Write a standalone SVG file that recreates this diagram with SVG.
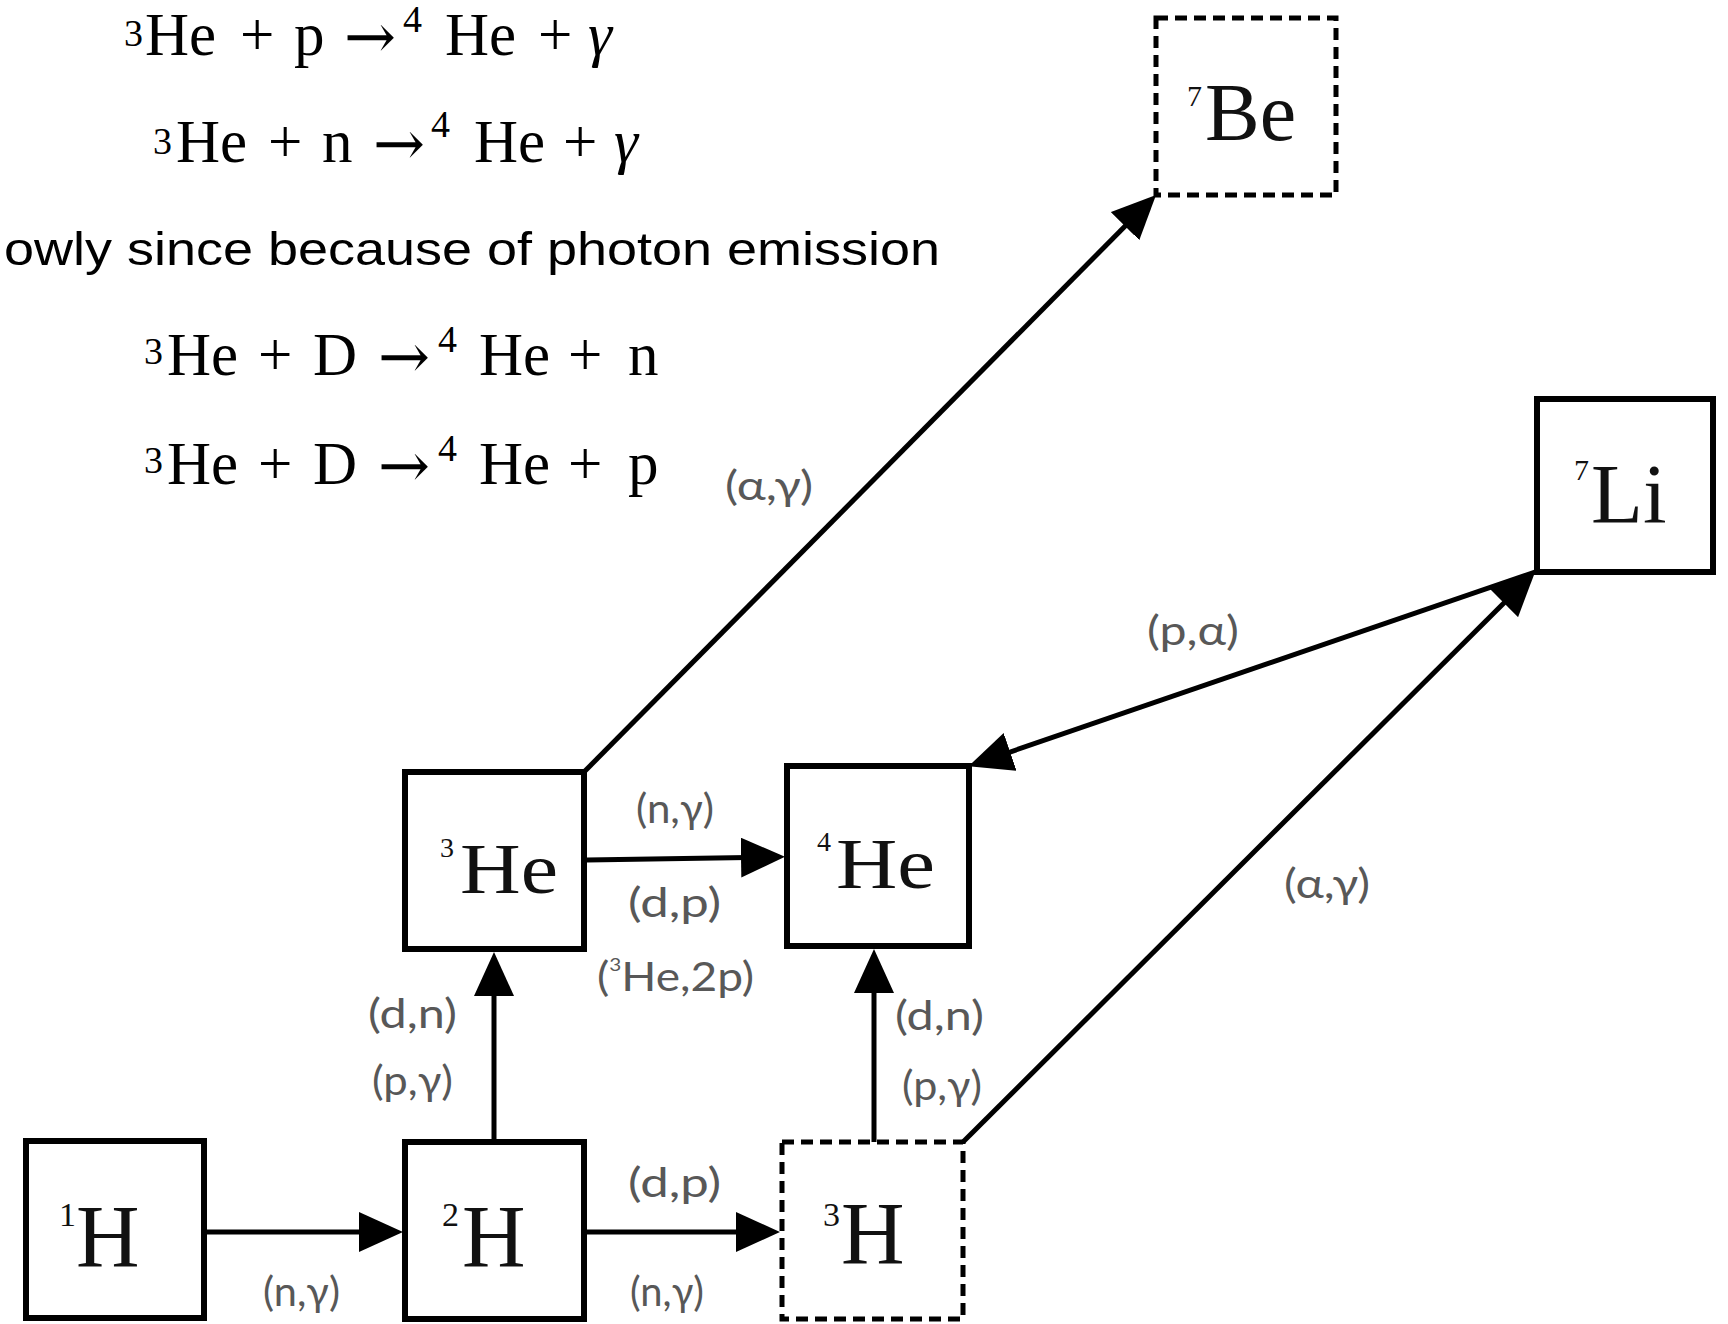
<svg xmlns="http://www.w3.org/2000/svg" width="1728" height="1324" viewBox="0 0 1728 1324">
<defs>
<style>
.eq{font-family:"Liberation Serif","Times New Roman",serif;font-size:61px;fill:#000}
.eqs{font-size:38px}
.eqg{font-style:italic}
.arr{font-family:"DejaVu Serif","DejaVu Sans",serif;font-size:62px}
.sans{font-family:"Liberation Sans",Arial,sans-serif;font-size:47px;fill:#000}
.box{fill:#fff;stroke:#000;stroke-width:6}
.dash{fill:#fff;stroke:#000;stroke-width:5;stroke-dasharray:12 7}
.nl{font-family:"Liberation Serif","Times New Roman",serif;fill:#111}
.lab{font-family:"Lato","Liberation Sans",sans-serif;font-size:40px;fill:#585858}
.con{stroke:#000;stroke-width:5;fill:none}
</style>
<marker id="ah" viewBox="0 0 44 40" refX="34" refY="20" markerWidth="44" markerHeight="40" markerUnits="userSpaceOnUse" orient="auto">
<path d="M0,0 L44,20 L0,40 z" fill="#000"/>
</marker>
</defs>
<rect width="1728" height="1324" fill="#fff"/>

<g id="equations">
<text class="eq"><tspan class="eqs" x="124" y="46">3</tspan><tspan x="145" y="55">He</tspan><tspan x="240" y="55">+</tspan><tspan x="294" y="55">p</tspan><tspan class="arr" x="344" y="58">→</tspan><tspan class="eqs" x="403" y="32">4</tspan><tspan x="445" y="55">He</tspan><tspan x="538" y="55">+</tspan><tspan class="eqg" x="588" y="55">γ</tspan></text>
<text class="eq"><tspan class="eqs" x="153" y="154">3</tspan><tspan x="176" y="162">He</tspan><tspan x="268" y="162">+</tspan><tspan x="322" y="162">n</tspan><tspan class="arr" x="373" y="165">→</tspan><tspan class="eqs" x="431" y="137">4</tspan><tspan x="474" y="162">He</tspan><tspan x="563" y="162">+</tspan><tspan class="eqg" x="614" y="162">γ</tspan></text>
<text class="sans" x="4" y="265" textLength="936" lengthAdjust="spacingAndGlyphs">owly since because of photon emission</text>
<text class="eq"><tspan class="eqs" x="144" y="364">3</tspan><tspan x="167" y="375">He</tspan><tspan x="258" y="375">+</tspan><tspan x="313" y="375">D</tspan><tspan class="arr" x="378" y="378">→</tspan><tspan class="eqs" x="438" y="352">4</tspan><tspan x="479" y="375">He</tspan><tspan x="568" y="375">+</tspan><tspan x="628" y="375">n</tspan></text>
<text class="eq"><tspan class="eqs" x="144" y="473">3</tspan><tspan x="167" y="484">He</tspan><tspan x="258" y="484">+</tspan><tspan x="313" y="484">D</tspan><tspan class="arr" x="378" y="487">→</tspan><tspan class="eqs" x="438" y="461">4</tspan><tspan x="479" y="484">He</tspan><tspan x="568" y="484">+</tspan><tspan x="628" y="484">p</tspan></text>
</g>

<g id="connectors">
<line class="con" x1="207" y1="1232" x2="393" y2="1232" marker-end="url(#ah)"/>
<line class="con" x1="494" y1="1142" x2="494" y2="962" marker-end="url(#ah)"/>
<line class="con" x1="587" y1="1232" x2="770" y2="1232" marker-end="url(#ah)"/>
<line class="con" x1="587" y1="860" x2="775" y2="857" marker-end="url(#ah)"/>
<line class="con" x1="874" y1="1142" x2="874" y2="959" marker-end="url(#ah)"/>
<line class="con" x1="584" y1="772" x2="1149" y2="202" marker-end="url(#ah)"/>
<line class="con" x1="963" y1="1142" x2="1528" y2="579" marker-end="url(#ah)"/>
<line class="con" x1="1535" y1="572" x2="978" y2="763" marker-end="url(#ah)"/>
</g>

<g id="labels">
<text class="lab" x="263" y="1306" textLength="77" lengthAdjust="spacingAndGlyphs">(n,γ)</text>
<text class="lab" x="368" y="1028" textLength="89" lengthAdjust="spacingAndGlyphs">(d,n)</text>
<text class="lab" x="372" y="1095" textLength="81" lengthAdjust="spacingAndGlyphs">(p,γ)</text>
<text class="lab" x="636" y="823" textLength="78" lengthAdjust="spacingAndGlyphs">(n,γ)</text>
<text class="lab" x="628" y="917" textLength="93" lengthAdjust="spacingAndGlyphs">(d,p)</text>
<text class="lab" x="597" y="991" textLength="157" lengthAdjust="spacingAndGlyphs">(<tspan font-size="18" dy="-20">3</tspan><tspan dy="20">He,2p)</tspan></text>
<text class="lab" x="895" y="1030" textLength="89" lengthAdjust="spacingAndGlyphs">(d,n)</text>
<text class="lab" x="902" y="1100" textLength="80" lengthAdjust="spacingAndGlyphs">(p,γ)</text>
<text class="lab" x="628" y="1197" textLength="93" lengthAdjust="spacingAndGlyphs">(d,p)</text>
<text class="lab" x="630" y="1306" textLength="74" lengthAdjust="spacingAndGlyphs">(n,γ)</text>
<text class="lab" x="725" y="500" textLength="88" lengthAdjust="spacingAndGlyphs">(α,γ)</text>
<text class="lab" x="1147" y="645" textLength="92" lengthAdjust="spacingAndGlyphs">(p,α)</text>
<text class="lab" x="1284" y="898" textLength="86" lengthAdjust="spacingAndGlyphs">(α,γ)</text>
</g>

<g id="node-1H">
<rect class="box" x="26" y="1141" width="178" height="177"/>
<text class="nl"><tspan x="59" y="1226" font-size="34">1</tspan><tspan x="76" y="1266" font-size="88">H</tspan></text>
</g>
<g id="node-2H">
<rect class="box" x="405" y="1142" width="179" height="177"/>
<text class="nl"><tspan x="442" y="1226" font-size="34">2</tspan><tspan x="462" y="1266" font-size="88">H</tspan></text>
</g>
<g id="node-3H">
<rect class="dash" x="782" y="1142" width="181" height="177"/>
<text class="nl"><tspan x="823" y="1226" font-size="34">3</tspan><tspan x="841" y="1263" font-size="88">H</tspan></text>
</g>
<g id="node-3He">
<rect class="box" x="405" y="772" width="179" height="177"/>
<text class="nl"><tspan x="440" y="857" font-size="28">3</tspan><tspan x="460" y="893" font-size="72" textLength="98" lengthAdjust="spacingAndGlyphs">He</tspan></text>
</g>
<g id="node-4He">
<rect class="box" x="787" y="766" width="182" height="180"/>
<text class="nl"><tspan x="817" y="851" font-size="28">4</tspan><tspan x="836" y="888" font-size="72" textLength="99" lengthAdjust="spacingAndGlyphs">He</tspan></text>
</g>
<g id="node-7Be">
<rect class="dash" x="1156" y="18" width="180" height="177"/>
<text class="nl"><tspan x="1187" y="106" font-size="30">7</tspan><tspan x="1205" y="140" font-size="82">Be</tspan></text>
</g>
<g id="node-7Li">
<rect class="box" x="1537" y="399" width="176" height="173"/>
<text class="nl"><tspan x="1574" y="480" font-size="30">7</tspan><tspan x="1591" y="523" font-size="85">Li</tspan></text>
</g>
</svg>
